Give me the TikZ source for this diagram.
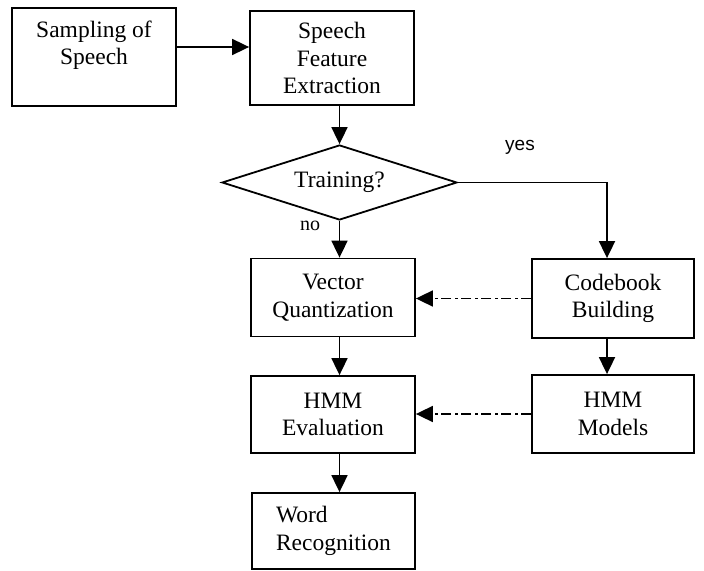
\documentclass[tikz,border=0pt]{standalone}
\usepackage{fontspec}
\setmainfont{Liberation Serif}
\newfontfamily\yesfont{Liberation Sans}
\usetikzlibrary{shapes.geometric}
\usetikzlibrary{arrows.meta}

\tikzset{
    box/.style={draw=black, line width=1.8bp, rectangle, align=center, inner sep=0pt,
        font=\fontsize{23.5bp}{27.5bp}\selectfont},
    decision/.style={draw=black, line width=1.8bp, diamond, aspect=3.13, inner sep=0pt,
        minimum width=235bp, minimum height=75bp, font=\fontsize{23.5bp}{27.5bp}\selectfont},
    flow/.style={black, line width=1.8bp, -{Triangle[length=17bp,width=16bp]}},
    feedback/.style={flow, dash pattern=on 10bp off 3.5bp on 3bp off 3.5bp},
}

\begin{document}
\begin{tikzpicture}[x=1bp, y=-1bp]
        \useasboundingbox (0,0) rectangle (704,571);
        \node[box, minimum width=164bp, text height=57bp, text depth=41bp] (sampling) at (94,57) {Sampling of\\Speech};
        \node[box, minimum width=164bp, minimum height=94bp] (feature) at (332,58) {Speech\\Feature\\Extraction};
        \node[decision] (training) at (339.5,182.5) {Training?};
        \node[box, minimum width=164bp, minimum height=78bp] (quant) at (333,297.5) {Vector\\Quantization};
        \node[box, minimum width=162bp, minimum height=79bp] (codebook) at (613,298.5) {Codebook\\Building};
        \node[box, minimum width=164bp, minimum height=77bp] (hmmeval) at (333,414.5) {HMM\\Evaluation};
        \node[box, minimum width=162bp, minimum height=78bp] (hmmmodels) at (613,414) {HMM\\Models};
        \node[box, align=left, minimum width=163bp, minimum height=76bp] (word) at (333.5,531) {Word\\Recognition};
        \node[font=\yesfont\fontsize{19bp}{22bp}\selectfont] (yes) at (520,147) {yes};
        \node[font=\fontsize{20bp}{24bp}\selectfont] (no) at (310,226) {no};
        \coordinate (yesbend) at (607,182.5);
        \draw[flow] ([yshift=10bp]sampling.east) -- ([yshift=10bp]sampling.east -| feature.west);
        \draw[flow] (feature.south -| training.north) -- (training.north);
        \draw[flow] (training.south) -- (training.south |- quant.north);
        \draw[flow] (training.east) -- (yesbend) -- (yesbend |- codebook.north);
        \draw[flow] (quant.south -| training.south) -- (hmmeval.north -| training.south);
        \draw[flow] (hmmeval.south -| training.south) -- (word.north -| training.south);
        \draw[flow] (codebook.south -| yesbend) -- (hmmmodels.north -| yesbend);
        \draw[feedback] (codebook.west) -- (codebook.west -| quant.east);
        \draw[feedback] (hmmmodels.west) -- (hmmmodels.west -| hmmeval.east);
    \end{tikzpicture}
\end{document}
